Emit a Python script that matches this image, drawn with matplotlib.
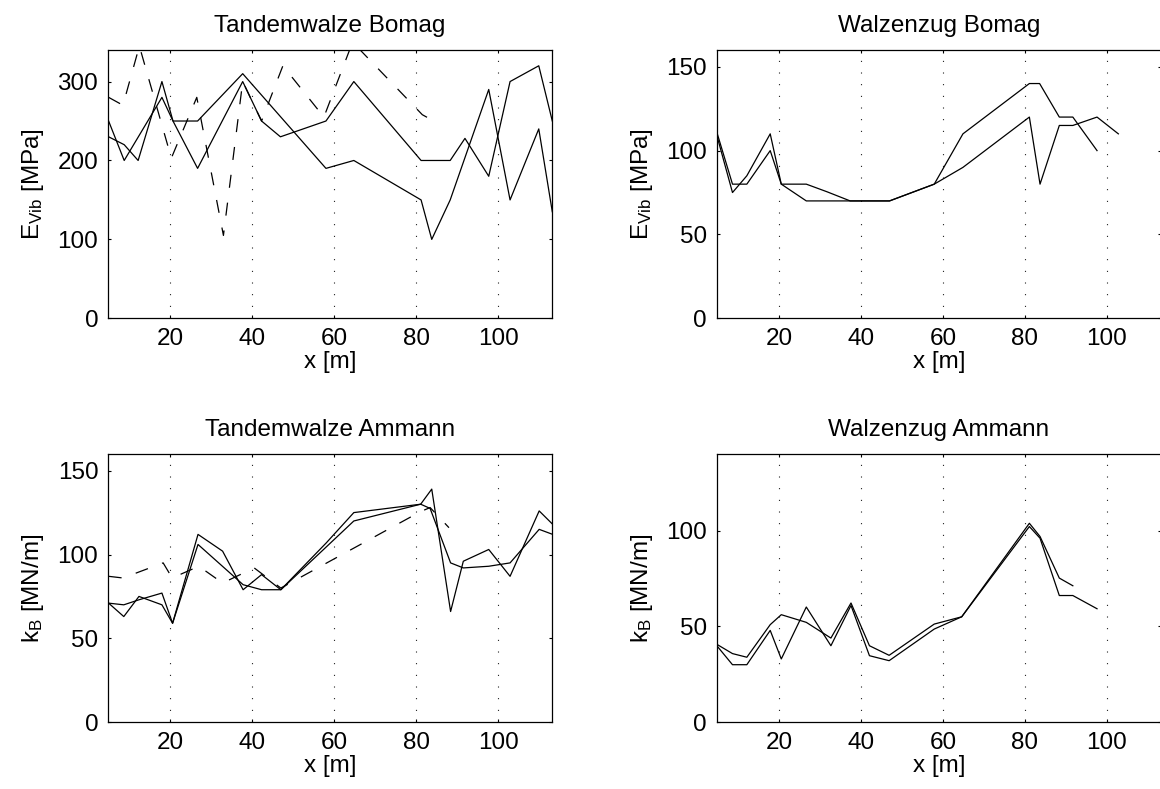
import matplotlib
matplotlib.use('Agg')
import matplotlib.pyplot as plt

plt.rcParams['font.family'] = ['Liberation Sans', 'DejaVu Sans']
plt.rcParams['mathtext.fontset'] = 'custom'
plt.rcParams['mathtext.rm'] = 'Liberation Sans'
plt.rcParams['mathtext.it'] = 'Liberation Sans:italic'
plt.rcParams['lines.scale_dashes'] = False

# Tandemwalze Bomag
tb_x1 = [5, 8.8, 18, 20.7, 26.7, 37.7, 58, 64.8, 81.2, 83.8, 88.3, 97.7, 102.9, 109.9, 113.2]
tb_y1 = [250, 200, 280, 250, 250, 310, 190, 200, 150, 100, 150, 290, 150, 240, 135]
tb_x2 = [5, 8.8, 12.2, 18, 20.7, 26.7, 37.7, 42.3, 46.9, 58, 64.8, 81.2, 88.3, 91.9, 97.7, 102.9, 109.9, 113.2]
tb_y2 = [230, 220, 200, 300, 250, 190, 300, 250, 230, 250, 300, 200, 200, 228, 180, 300, 320, 250]
tb_xd = [5, 8.5, 12.5, 20.3, 26.5, 33, 37.7, 42.3, 47.5, 57.5, 64.5, 81.5, 84.3]
tb_yd = [280, 270, 345, 203, 280, 105, 300, 250, 320, 255, 350, 258, 250]

# Walzenzug Bomag
wb_x1 = [5, 8.7, 12.2, 17.9, 20.6, 26.7, 37.4, 47, 57.9, 64.9, 81.1, 83.7, 88.4, 91.7, 97.6, 102.8]
wb_y1 = [108, 75, 85, 110, 80, 70, 70, 70, 80, 90, 120, 80, 115, 115, 120, 110]
wb_x2 = [5, 8.7, 12.2, 17.9, 20.6, 26.7, 31.7, 37.4, 47, 57.9, 64.9, 81.1, 83.6, 88.4, 91.7, 97.6]
wb_y2 = [110, 80, 80, 100, 80, 80, 75.5, 70, 70, 80, 110, 140, 140, 120, 120, 100]

# Tandemwalze Ammann
ta_x1 = [5, 8.7, 12.4, 18, 20.6, 26.8, 32.8, 37.8, 42.3, 47, 58.1, 64.8, 81.1, 83.8, 88.4, 91.5, 97.7, 102.9, 110, 113.3]
ta_y1 = [71, 63, 75, 70, 59, 112, 102, 79, 88, 79, 107, 125, 130, 139, 66, 96, 103, 87, 126, 118]
ta_x2 = [5, 8.7, 12.4, 18, 20.6, 26.8, 37.8, 42.3, 47, 64.8, 81.1, 83.4, 88.4, 91.5, 97.7, 102.9, 110, 113.3]
ta_y2 = [71, 70, 73, 77, 59, 106, 82, 79, 79, 120, 130, 127.5, 95, 92, 93, 95, 115, 112]
ta_xd = [5, 8.5, 18.3, 20.5, 27, 32.8, 40.5, 47, 81, 83.4, 88]
ta_yd = [87, 86, 95, 86, 93, 83, 92, 80, 125.5, 128, 116]

# Walzenzug Ammann
wa_x1 = [5, 8.7, 12.2, 17.9, 20.6, 26.7, 32.7, 37.6, 42.1, 46.9, 57.9, 64.6, 81.1, 83.7, 88.4, 91.7]
wa_y1 = [40.5, 35.8, 33.9, 50.9, 56.1, 52.1, 43.9, 62.2, 39.9, 34.9, 51.2, 55, 103.8, 96.9, 75.2, 71.2]
wa_x2 = [5, 8.7, 12.2, 17.9, 20.6, 26.7, 32.7, 37.6, 42.1, 46.9, 57.9, 64.6, 81.1, 83.7, 88.4, 91.7, 97.6]
wa_y2 = [39.6, 30, 30, 47.9, 33, 60.1, 39.9, 60.9, 34.7, 32.1, 48.6, 55, 102.1, 96, 66.1, 66.1, 59.2]

W, H = 1160, 789
fs = 17.5
xlim = (4.85, 113.2)


def panel(rect, title, ylabel, ymax, yticks, solid, dashed=None):
    ax = fig.add_axes(rect)
    for x, y in solid:
        ax.plot(x, y, color='k', lw=0.9)
    if dashed is not None:
        ax.plot(dashed[0], dashed[1], color='k', lw=0.9, dashes=(9.4, 10.8))
    ax.set_xlim(*xlim)
    ax.set_ylim(0, ymax)
    ax.set_xticks([20, 40, 60, 80, 100])
    ax.set_yticks(yticks)
    ax.grid(axis='x', color='k', lw=0.8, linestyle=(0, (0.7, 7.7)))
    ax.tick_params(direction='in', top=True, right=True, length=2.5, width=0.8,
                   labelsize=fs, pad=7)
    for s in ax.spines.values():
        s.set_linewidth(0.9)
    ax.set_title(title, fontsize=fs, pad=13)
    ax.set_xlabel('x [m]', fontsize=fs, labelpad=1)
    ax.set_ylabel(ylabel, fontsize=fs, labelpad=8)
    return ax


fig = plt.figure(figsize=(W / 100, H / 100), dpi=100)

lx, rx, aw = 108 / W, 716.7 / W, 444.3 / W
ty, by, ah = 470.7 / H, 66.8 / H, 268.3 / H

e_lab = r'E$_{\mathrm{Vib}}$ [MPa]'
k_lab = r'k$_{\mathrm{B}}$ [MN/m]'

panel([lx, ty, aw, ah], 'Tandemwalze Bomag', e_lab, 340, [0, 100, 200, 300],
      [(tb_x1, tb_y1), (tb_x2, tb_y2)], (tb_xd, tb_yd))
panel([rx, ty, aw, ah], 'Walzenzug Bomag', e_lab, 160, [0, 50, 100, 150],
      [(wb_x1, wb_y1), (wb_x2, wb_y2)])
panel([lx, by, aw, ah], 'Tandemwalze Ammann', k_lab, 160, [0, 50, 100, 150],
      [(ta_x1, ta_y1), (ta_x2, ta_y2)], (ta_xd, ta_yd))
panel([rx, by, aw, ah], 'Walzenzug Ammann', k_lab, 140, [0, 50, 100],
      [(wa_x1, wa_y1), (wa_x2, wa_y2)])

fig.savefig('out.png', dpi=100)
